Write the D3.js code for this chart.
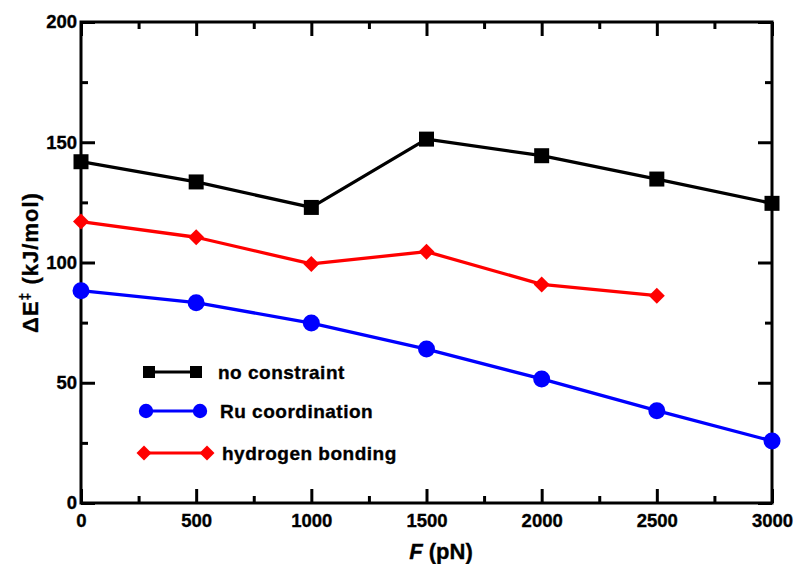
<!DOCTYPE html>
<html><head><meta charset="utf-8">
<script src="https://cdn.jsdelivr.net/npm/d3@7"></script>
<style>
html,body{margin:0;padding:0;background:#fff;}
svg text{font-family:"Liberation Sans",Arial,Helvetica,sans-serif;font-weight:bold;fill:#000;stroke:#000;stroke-width:0.35px;}
</style></head>
<body>
<svg id="chart" width="799" height="564"></svg>
<script>
const forces = [0, 500, 1000, 1500, 2000, 2500, 3000];
const noConstraint = [141.9, 133.5, 122.9, 151.3, 144.4, 134.7, 124.6];
const ruCoordination = [88.3, 83.3, 74.8, 64.0, 51.6, 38.4, 25.8];
const hydrogenBonding = [117.0, 110.5, 99.4, 104.5, 90.9, 86.2];
const xTicks = [0, 500, 1000, 1500, 2000, 2500, 3000];
const xMinor = [250, 750, 1250, 1750, 2250, 2750];
const yTicks = [0, 50, 100, 150, 200];
const yMinor = [25, 75, 125, 175];
const seriesNames = ["no constraint", "Ru coordination", "hydrogen bonding"];
const seriesColors = ["#000000", "#0000ff", "#ff0000"];

const svg = d3.select("#chart");
const L = 81, R = 772, T = 22, B = 503;
const x = d3.scaleLinear().domain([0, 3000]).range([L, R]);
const y = d3.scaleLinear().domain([0, 200]).range([B, T]);

const fs = 18.5;
function styleAxis(g){
  g.select(".domain").remove();
  g.selectAll(".tick line").attr("stroke", "#000").attr("stroke-width", 3);
  g.selectAll(".tick text").style("font-size", fs + "px");
}
svg.append("g").attr("transform", `translate(0,${B})`)
  .call(d3.axisBottom(x).tickValues(xTicks).tickSize(-14).tickPadding(11).tickFormat(d3.format("d")))
  .call(styleAxis);
svg.append("g").attr("transform", `translate(0,${B})`)
  .call(d3.axisBottom(x).tickValues(xMinor).tickSize(-7).tickFormat(""))
  .call(styleAxis);
svg.append("g").attr("transform", `translate(0,${T})`)
  .call(d3.axisTop(x).tickValues(xTicks).tickSize(-14).tickFormat(""))
  .call(styleAxis);
svg.append("g").attr("transform", `translate(0,${T})`)
  .call(d3.axisTop(x).tickValues(xMinor).tickSize(-7).tickFormat(""))
  .call(styleAxis);
svg.append("g").attr("transform", `translate(${L},0)`)
  .call(d3.axisLeft(y).tickValues(yTicks).tickSize(-14).tickPadding(4).tickFormat(d3.format("d")))
  .call(styleAxis);
svg.append("g").attr("transform", `translate(${L},0)`)
  .call(d3.axisLeft(y).tickValues(yMinor).tickSize(-7).tickFormat(""))
  .call(styleAxis);
svg.append("g").attr("transform", `translate(${R},0)`)
  .call(d3.axisRight(y).tickValues(yTicks).tickSize(-14).tickFormat(""))
  .call(styleAxis);
svg.append("g").attr("transform", `translate(${R},0)`)
  .call(d3.axisRight(y).tickValues(yMinor).tickSize(-7).tickFormat(""))
  .call(styleAxis);

svg.append("rect").attr("x", L).attr("y", T).attr("width", R - L).attr("height", B - T)
  .attr("fill", "none").attr("stroke", "#000").attr("stroke-width", 3);

// series
const series = [
  {name: seriesNames[0], color: seriesColors[0], vals: noConstraint, sym: d3.symbolSquare, size: 225, rot: 0},
  {name: seriesNames[1], color: seriesColors[1], vals: ruCoordination, sym: d3.symbolCircle, size: Math.PI*8.5*8.5, rot: 0},
  {name: seriesNames[2], color: seriesColors[2], vals: hydrogenBonding, sym: d3.symbolSquare, size: 128, rot: 45}
];
const line = d3.line().x(d => x(d[0])).y(d => y(d[1]));
series.forEach(s => {
  const pts = s.vals.map((v, i) => [forces[i], v]);
  svg.append("path").datum(pts).attr("d", line)
    .attr("fill", "none").attr("stroke", s.color).attr("stroke-width", 3.3).attr("stroke-linejoin", "round");
  svg.selectAll(null).data(pts).enter().append("path")
    .attr("d", d3.symbol().type(s.sym).size(s.size))
    .attr("transform", d => `translate(${x(d[0])},${y(d[1])}) rotate(${s.rot})`)
    .attr("fill", s.color);
});

// legend
const legendRows = [
  {x1: 149, x2: 196, y: 372, tx: 218, size: 144},
  {x1: 146, x2: 200, y: 411, tx: 220, size: Math.PI*7.2*7.2},
  {x1: 144, x2: 207, y: 453, tx: 222, size: 112}
];
series.forEach((s, i) => {
  const r = legendRows[i];
  const g = svg.append("g");
  g.append("line").attr("x1", r.x1).attr("x2", r.x2).attr("y1", r.y).attr("y2", r.y)
    .attr("stroke", s.color).attr("stroke-width", 3);
  [r.x1, r.x2].forEach(px => g.append("path")
    .attr("d", d3.symbol().type(s.sym).size(r.size))
    .attr("transform", `translate(${px},${r.y}) rotate(${s.rot})`).attr("fill", s.color));
  g.append("text").attr("x", r.tx).attr("y", r.y).attr("dy", "0.35em")
    .style("font-size", "19px").style("letter-spacing", "0.5px").text(s.name);
});

// axis titles
svg.append("text").attr("transform", `translate(38,${(T + B) / 2}) rotate(-90)`)
  .attr("text-anchor", "middle").style("font-size", "22px").style("letter-spacing", "1px")
  .html('ΔE<tspan dy="-8" style="font-size:14px">‡</tspan><tspan dy="8"> (kJ/mol)</tspan>');
const xt = svg.append("text").attr("x", 441).attr("y", 559)
  .attr("text-anchor", "middle").style("font-size", "22px");
xt.append("tspan").style("font-style", "italic").text("F");
xt.append("tspan").text(" (pN)");
</script>
</body></html>
